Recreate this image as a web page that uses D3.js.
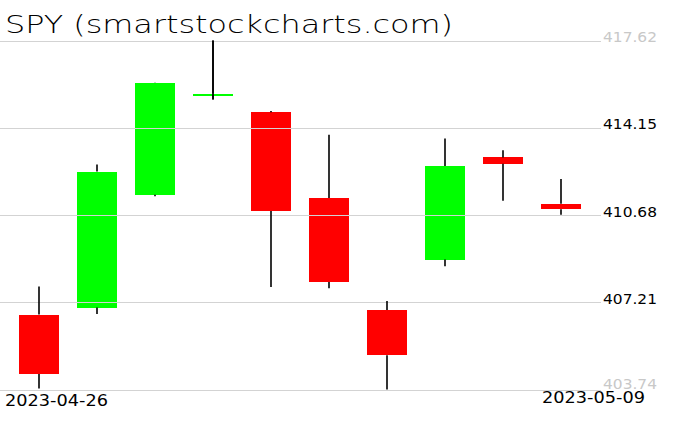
<!DOCTYPE html>
<html><head><meta charset="utf-8">
<script src="https://cdn.jsdelivr.net/npm/d3@7"></script>
<style>html,body{margin:0;padding:0;background:#fff;}svg{display:block;}</style>
</head><body>
<svg id="c" width="676" height="431"></svg>
<script>
const dates = ["2023-04-26","2023-04-27","2023-04-28","2023-05-01","2023-05-02","2023-05-03","2023-05-04","2023-05-05","2023-05-08","2023-05-09"];
const opens  = [406.72, 407.00, 411.49, 415.47, 414.77, 411.36, 406.90, 408.91, 412.97, 411.13];
const highs  = [407.84, 412.69, 415.94, 417.62, 414.82, 413.87, 407.26, 413.72, 413.26, 412.11];
const lows   = [403.78, 406.74, 411.43, 415.27, 407.82, 407.77, 403.74, 408.64, 411.25, 410.69];
const closes = [404.36, 412.41, 415.93, 415.51, 410.84, 408.02, 405.10, 412.63, 412.72, 410.91];
const tickValues = [403.74, 407.21, 410.68, 414.15, 417.62];
const dateLabels = ["2023-04-26", "2023-05-09"];
const title = "SPY (smartstockcharts.com)";

const svg = d3.select("#c");
const x = d3.scaleBand().domain(dates).range([10, 590]).paddingInner(0.32).paddingOuter(0.16);
const y = d3.scaleLinear().domain([403.74, 417.62]).range([389.5, 40.5]);
const data = dates.map((d,i)=>({d, o:opens[i], h:highs[i], l:lows[i], c:closes[i]}));

// bodies
svg.append("g").selectAll("rect").data(data).join("rect")
  .attr("x", d=>x(d.d)).attr("width", x.bandwidth())
  .attr("y", d=>y(Math.max(d.o,d.c)))
  .attr("height", d=>Math.max(2, Math.abs(y(d.o)-y(d.c))))
  .attr("fill", d=>d.c>=d.o ? "#00ff00" : "#ff0000")
  .attr("shape-rendering","crispEdges");

// grid
const grid = svg.append("g");
grid.selectAll("line").data(tickValues).join("line")
  .attr("x1",0).attr("x2",601)
  .attr("y1",d=>Math.round(y(d))+0.5).attr("y2",d=>Math.round(y(d))+0.5)
  .attr("stroke","#d3d3d3").attr("stroke-width",1.2);

// wicks
const wk = svg.append("g").attr("stroke","#000").attr("stroke-width",1.6);
data.forEach(d=>{
  const cx = x(d.d)+x.bandwidth()/2;
  wk.append("line").attr("x1",cx).attr("x2",cx).attr("y1",y(d.h)).attr("y2",y(Math.max(d.o,d.c)));
  wk.append("line").attr("x1",cx).attr("x2",cx).attr("y1",y(Math.min(d.o,d.c))).attr("y2",y(d.l));
});
// doji wick crossing
data.filter(d=>Math.abs(y(d.o)-y(d.c))<2).forEach(d=>{
  const cx = x(d.d)+x.bandwidth()/2;
  wk.append("line").attr("x1",cx).attr("x2",cx).attr("y1",y(d.h)).attr("y2",y(d.l));
});

// y labels
svg.append("g").selectAll("text").data(tickValues).join("text")
  .attr("x",603).attr("y",d=>y(d)+(d===tickValues[0]? -1 : 1.5))
  .attr("font-family","DejaVu Sans").attr("font-size",14)
  .attr("textLength",54).attr("lengthAdjust","spacingAndGlyphs")
  .attr("fill",(d,i)=> (i===0||i===tickValues.length-1) ? "#c8c8c8" : "#000")
  .text(d=>d.toFixed(2));

// date labels
svg.append("text").attr("x",5).attr("y",406).attr("font-family","DejaVu Sans").attr("font-size",16)
  .attr("textLength",103).attr("lengthAdjust","spacingAndGlyphs").text(dateLabels[0]);
svg.append("text").attr("x",542).attr("y",403).attr("font-family","DejaVu Sans").attr("font-size",16)
  .attr("textLength",103).attr("lengthAdjust","spacingAndGlyphs").text(dateLabels[1]);

// title
svg.append("text").attr("x",5).attr("y",33).attr("font-family","DejaVu Sans").attr("font-weight",200)
  .attr("font-size",25).attr("textLength",448).attr("lengthAdjust","spacingAndGlyphs").text(title);
</script>
</body></html>
